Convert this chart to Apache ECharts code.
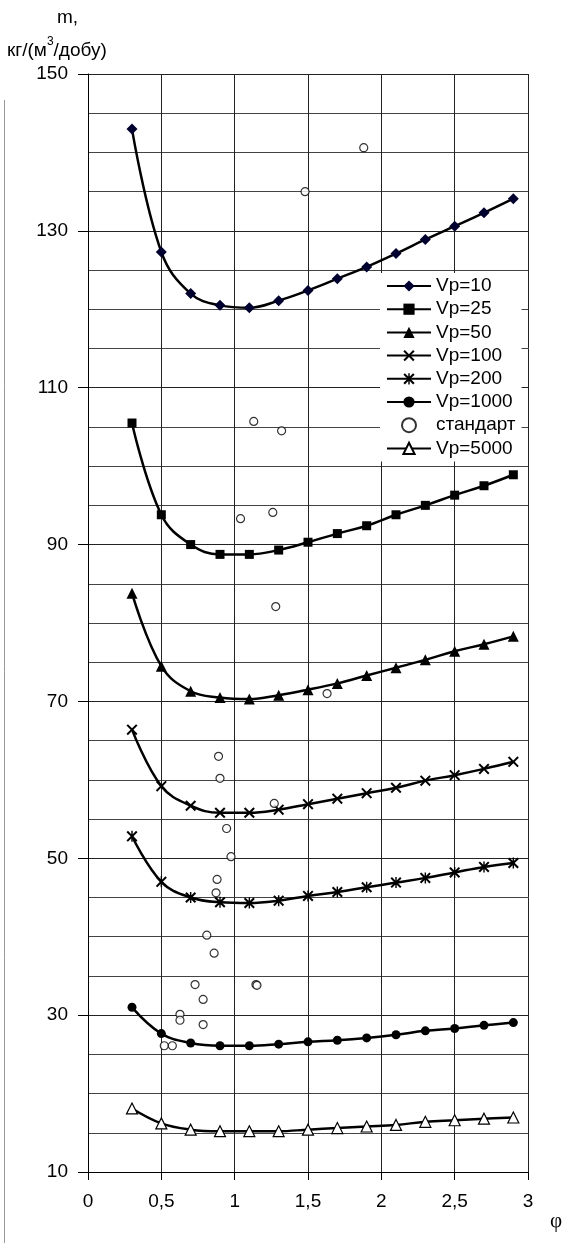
<!DOCTYPE html>
<html>
<head>
<meta charset="utf-8">
<script src="https://cdn.jsdelivr.net/npm/echarts@6/dist/echarts.min.js"></script>
<style>html,body{margin:0;padding:0;background:#fff;}#c{width:575px;height:1243px;}</style>
</head>
<body>
<div id="c"></div>
<script>
const phi = [0.3,0.5,0.7,0.9,1.1,1.3,1.5,1.7,1.9,2.1,2.3,2.5,2.7,2.9];
const vp10 = [143.0,127.3,122.0,120.5,120.2,121.1,122.4,123.9,125.4,127.1,128.9,130.6,132.3,134.1];
const vp25 = [105.5,93.8,90.0,88.75,88.75,89.3,90.3,91.4,92.4,93.8,95.0,96.3,97.5,98.9];
const vp50 = [83.8,74.5,71.3,70.5,70.3,70.8,71.5,72.3,73.3,74.3,75.3,76.4,77.3,78.3];
const vp100 = [66.4,59.2,56.7,55.8,55.8,56.2,56.9,57.6,58.3,59.0,59.9,60.6,61.4,62.3];
const vp200 = [52.8,47.0,45.0,44.4,44.3,44.6,45.2,45.7,46.3,46.9,47.5,48.2,48.9,49.4];
const vp1000 = [31.0,27.65,26.45,26.1,26.1,26.3,26.6,26.8,27.1,27.5,28.0,28.3,28.7,29.05];
const vp5000 = [18.1,16.2,15.4,15.2,15.2,15.2,15.4,15.6,15.8,16.0,16.4,16.6,16.8,16.95];
const standartPhi = [1.48,1.88,1.13,1.32,1.04,1.26,1.28,1.63,0.89,0.90,1.27,0.945,0.975,0.88,0.873,0.81,0.86,0.73,1.145,1.152,0.785,0.627,0.627,0.785,0.52,0.575];
const standartM = [135.0,140.6,105.7,104.5,93.3,94.1,82.1,71.0,63.0,60.2,57.0,53.8,50.2,47.3,45.6,40.2,37.9,33.9,33.9,33.8,32.0,30.1,29.35,28.8,26.1,26.1];
const xTicks = ['0','0,5','1','1,5','2','2,5','3'];
const legendNames = ['Vp=10','Vp=25','Vp=50','Vp=100','Vp=200','Vp=1000','стандарт','Vp=5000'];

const pairs = arr => phi.map((x,i)=>[x, arr[i]]);
const FONT = 'Liberation Sans, Arial, sans-serif';
const xPath = 'path://M0,1.3L1.3,0L5,3.7L8.7,0L10,1.3L6.3,5L10,8.7L8.7,10L5,6.3L1.3,10L0,8.7L3.7,5Z';
const starPath = 'path://M0,1.3L1.3,0L5,3.7L8.7,0L10,1.3L6.3,5L10,8.7L8.7,10L5,6.3L1.3,10L0,8.7L3.7,5Z M4.35,0L5.65,0L5.65,10L4.35,10Z';

function lineSeries(name, arr, symbol, size, fill, border) {
  return {
    name: name, type: 'line', data: pairs(arr), smooth: 0.4,
    symbol: symbol, symbolSize: size,
    lineStyle: {color: '#000', width: 2.5},
    itemStyle: {color: fill, borderColor: border || fill, borderWidth: border ? 1.2 : 0},
    emphasis: {disabled: true}, z: 3
  };
}

const series = [
  lineSeries('Vp=10', vp10, 'diamond', 11, '#00002e'),
  lineSeries('Vp=25', vp25, 'rect', 9, '#000'),
  lineSeries('Vp=50', vp50, 'triangle', 11, '#000'),
  lineSeries('Vp=100', vp100, xPath, 11, '#000'),
  lineSeries('Vp=200', vp200, starPath, 11, '#000'),
  lineSeries('Vp=1000', vp1000, 'circle', 9, '#000'),
  {
    name: 'стандарт', type: 'scatter', data: standartPhi.map((x,i)=>[x, standartM[i]]),
    symbol: 'circle', symbolSize: 8,
    itemStyle: {color: '#fff', borderColor: '#000', borderWidth: 1.2},
    emphasis: {disabled: true}, z: 4
  },
  lineSeries('Vp=5000', vp5000, 'triangle', 11, '#fff', '#000')
];

const chart = echarts.init(document.getElementById('c'), null, {renderer: 'canvas'});
chart.setOption({
  animation: false,
  backgroundColor: '#fff',
  grid: {left: 88, right: 47, top: 74, height: 1098, containLabel: false},
  xAxis: {
    type: 'value', min: 0, max: 3, interval: 0.5,
    axisLine: {show: true, onZero: false, lineStyle: {color: '#000', width: 1}},
    axisTick: {show: true, inside: false, length: 8, lineStyle: {color: '#000'}},
    axisLabel: {
      color: '#000', fontFamily: FONT, fontSize: 19, margin: 20,
      formatter: v => xTicks[Math.round(v / 0.5)]
    },
    splitLine: {show: true, lineStyle: {color: '#222', width: 1}}
  },
  yAxis: {
    type: 'value', min: 10, max: 150, interval: 20,
    axisLine: {show: true, lineStyle: {color: '#000', width: 1}},
    axisTick: {show: true, inside: false, length: 10, lineStyle: {color: '#000'}},
    axisLabel: {color: '#000', fontFamily: FONT, fontSize: 19, margin: 20},
    splitLine: {show: true, lineStyle: {color: '#222', width: 1}},
    minorTick: {show: false, splitNumber: 4},
    minorSplitLine: {show: true, lineStyle: {color: '#444', width: 1}}
  },
  legend: {
    orient: 'vertical', left: 380, top: 273,
    data: legendNames,
    backgroundColor: '#fff', padding: [3, 6, 3, 6],
    itemWidth: 44, itemHeight: 14, itemGap: 3.2,
    textStyle: {color: '#000', fontFamily: FONT, fontSize: 19, lineHeight: 20},
    selectedMode: false
  },
  graphic: [
    {type: 'text', left: 57, top: 8, style: {text: 'm,', font: '19px ' + FONT, fill: '#000'}},
    {type: 'text', left: 7, top: 36, style: {
      text: '{a|кг/(м}{s|3}{a|/добу)}',
      rich: {
        a: {fontFamily: FONT, fontSize: 19, lineHeight: 24, fill: '#000', verticalAlign: 'bottom'},
        s: {fontFamily: FONT, fontSize: 12, lineHeight: 14, fill: '#000', verticalAlign: 'top'}
      }
    }},
    {type: 'text', left: 550, top: 1211, style: {text: 'φ', font: '21px Liberation Serif, Times New Roman, serif', fill: '#000'}},
    {type: 'line', shape: {x1: 4.5, y1: 100, x2: 4.5, y2: 1243}, style: {stroke: '#999', lineWidth: 1}}
  ],
  series: series
});
</script>
</body>
</html>
